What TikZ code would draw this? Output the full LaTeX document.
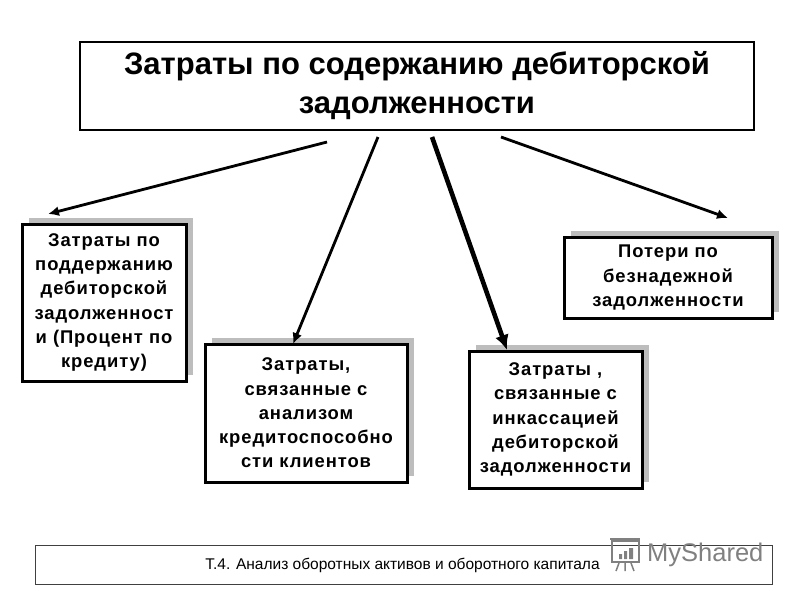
\documentclass[tikz,border=0pt]{standalone}
\usepackage{fontspec}
\setmainfont{Liberation Sans}
\usetikzlibrary{shadows,arrows.meta}

\begin{document}
\begin{tikzpicture}[x=1pt,y=-1pt]

\def\thick{3pt}
\def\shift{6.5pt}

\definecolor{shadowgray}{gray}{0.74}
\definecolor{markgray}{gray}{0.5}

\tikzset{titlebox/.style = {draw, line width=2pt, inner sep=0pt, align=center, font=\bfseries\fontsize{31}{39}\selectfont}}
\tikzset{costbox/.style = {draw, fill=white, line width=\thick, inner sep=0pt, align=center, font=\bfseries\addfontfeature{LetterSpace=5}\fontsize{18.4}{24.3}\selectfont, copy shadow={shadow xshift=\shift, shadow yshift=\shift, fill=shadowgray, draw=none}}}
\tikzset{costline/.style = {-{Latex[length=11pt,width=10pt]}, line width=2.8pt}}

\useasboundingbox (0,0) rectangle (800,600);
\fill[white] (0,0) rectangle (800,600);

% title
\node[titlebox, minimum width=674pt, minimum height=88pt] (title) at (417,86) {Затраты по содержанию дебиторской\\задолженности};

% boxes
\node[costbox, minimum width=164pt, minimum height=157pt] (b1) at (104,302.5) {Затраты по\\поддержанию\\дебиторской\\задолженност\\и (Процент по\\кредиту)};
\node[costbox, minimum width=202pt, minimum height=138pt] (b2) at (306,413) {Затраты,\\связанные с\\анализом\\кредитоспособно\\сти клиентов};
\node[costbox, minimum width=173pt, minimum height=137pt] (b3) at (555.5,419.5) {Затраты ,\\связанные с\\инкассацией\\дебиторской\\задолженности};
\node[costbox, minimum width=208pt, minimum height=81pt] (b4) at (668,277.5) {Потери по\\безнадежной\\задолженности};

% arrow ends
\coordinate (t1) at (327,142);
\coordinate (t2) at (378,137);
\coordinate (t3) at (432,137);
\coordinate (t4) at (501,137);
\coordinate (e1) at (48,214);
\coordinate (e2) at (293,344);
\coordinate (e3) at (507,350);
\coordinate (e4) at (728,218);

\draw[costline] (t1) -- (e1);
\draw[costline] (t2) -- (e2);
\draw[-{Latex[length=15pt,width=14pt]}, line width=4.6pt] (t3) -- (e3);
\draw[costline] (t4) -- (e4);

% footer
\node[draw=black!75, line width=1pt, minimum width=737pt, minimum height=39pt, inner sep=0pt] (foot) at (403.5,564.5) {};
\node[inner sep=0pt, font=\fontsize{15.5}{18}\selectfont] (foottext) at (402.5,565) {Т.4. Анализ оборотных активов и оборотного капитала};

% watermark
\draw[markgray, line width=1.6pt] (612,541) rectangle (639,562);
\draw[markgray, line width=1.6pt] (610,539) -- (640,539);
\draw[markgray, line width=1.5pt] (619,563) -- (616,571) (625,563) -- (625,571) (631,563) -- (634,571);
\fill[markgray] (619,554) rectangle (622,559) (624,551) rectangle (627,559) (629,548) rectangle (633,559);
\node[inner sep=0pt, anchor=west, text=markgray, font=\fontsize{25.5}{30}\selectfont] (mark) at (647,555) {MyShared};

\end{tikzpicture}
\end{document}
